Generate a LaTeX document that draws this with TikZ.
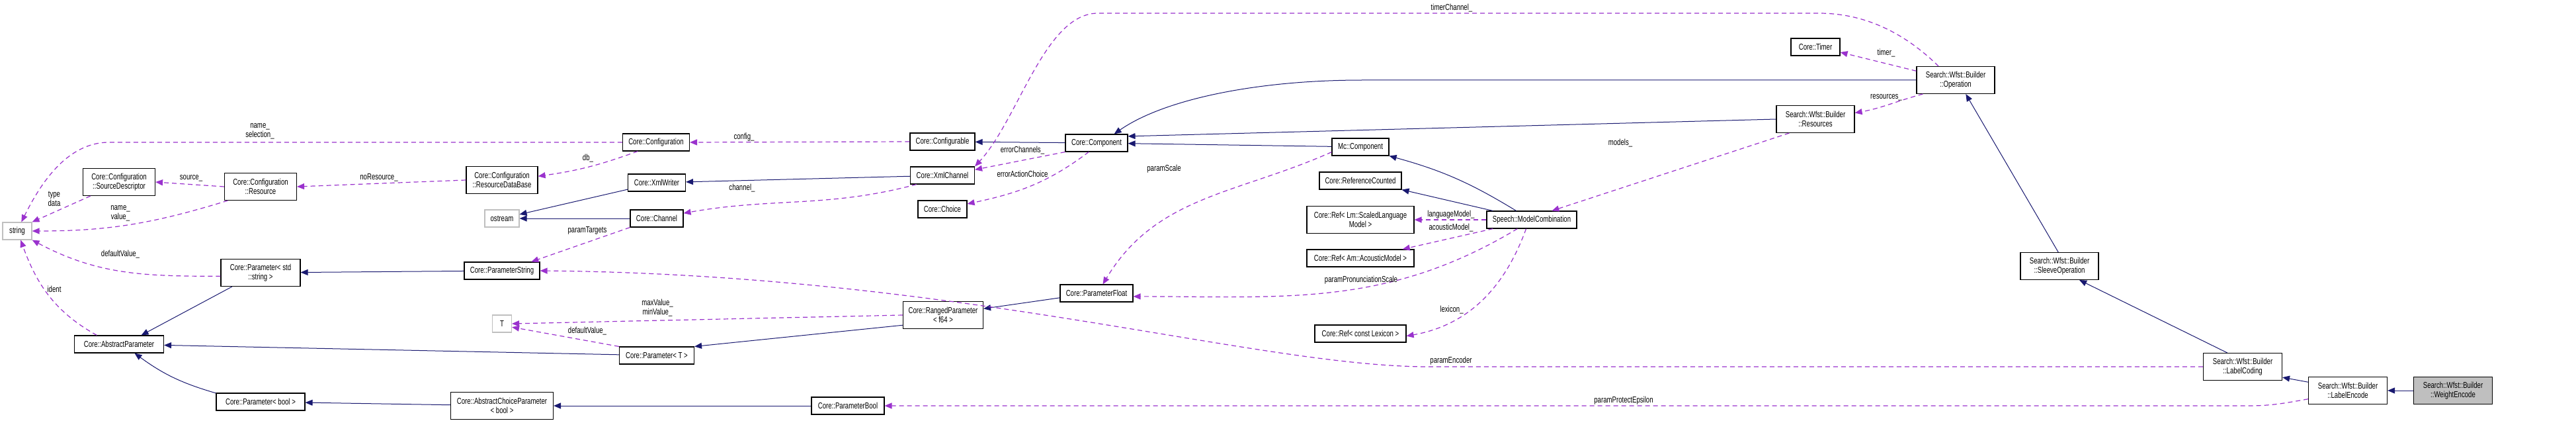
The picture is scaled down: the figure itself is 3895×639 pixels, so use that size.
\documentclass[tikz,border=0pt]{standalone}
\usepackage{fontspec}
\setmainfont{Liberation Sans}[FakeStretch=0.74]
\usepackage{tikz}
\usetikzlibrary{arrows.meta,positioning}
\definecolor{inhcol}{HTML}{191970}
\definecolor{usecol}{HTML}{9A32CD}
\definecolor{boxgray}{HTML}{BFBFBF}

\begin{document}
\begin{tikzpicture}[
  x=1pt, y=1pt,
  font=\fontsize{13}{14}\selectfont,
  cls/.style={draw, fill=white, line width=1.1pt, inner sep=0pt, align=center, minimum height=26pt},
  cls2/.style={cls, minimum height=41pt},
  ext/.style={cls, draw=boxgray},
  inh/.style={-{Triangle[length=11pt,width=9pt]}, draw=inhcol, line width=1pt},
  use/.style={-{Triangle[length=11pt,width=9pt]}, draw=usecol, line width=1.2pt, dash pattern=on 7pt off 5pt},
  lab/.style={inner sep=0pt, align=center}
]
\useasboundingbox (0,0) rectangle (3895,-639);

\node[ext, minimum width=44pt] (str) at (26,-349) {string};
\node[cls2, minimum width=109pt] (srcdesc) at (180,-275) {Core::Configuration\\::SourceDescriptor};
\node[cls2, minimum width=109pt] (resource) at (394,-282) {Core::Configuration\\::Resource};
\node[cls2, minimum width=108pt] (resdb) at (759,-272) {Core::Configuration\\::ResourceDataBase};
\node[cls, minimum width=101pt] (config) at (992,-215) {Core::Configuration};
\node[cls, minimum width=87pt] (xmlwriter) at (993,-276) {Core::XmlWriter};
\node[ext, minimum width=52pt] (ostream) at (759,-330) {ostream};
\node[cls, minimum width=80pt] (channel) at (993,-330) {Core::Channel};
\node[cls, minimum width=114pt] (pstring) at (759,-409) {Core::ParameterString};
\node[ext, minimum width=29pt] (tparam) at (759,-489) {T};
\node[cls, minimum width=113pt] (paramt) at (993,-537) {Core::Parameter< T >};
\node[cls2, minimum width=155pt] (choicepar) at (759,-613) {Core::AbstractChoiceParameter\\< bool >};
\node[cls, minimum width=110pt] (pbool) at (1282,-613) {Core::ParameterBool};
\node[cls2, minimum width=120pt] (paramstd) at (394,-412) {Core::Parameter< std\\::string >};
\node[cls, minimum width=135pt] (absparam) at (180,-520) {Core::AbstractParameter};
\node[cls, minimum width=134pt] (parambool) at (394,-607) {Core::Parameter< bool >};
\node[cls, minimum width=98pt] (configurable) at (1425,-214) {Core::Configurable};
\node[cls, minimum width=97pt] (xmlchannel) at (1425,-265) {Core::XmlChannel};
\node[cls, minimum width=74pt] (choice) at (1425,-316) {Core::Choice};
\node[cls, minimum width=94pt] (component) at (1658,-216) {Core::Component};
\node[cls2, minimum width=121pt] (ranged) at (1426,-476) {Core::RangedParameter\\< f64 >};
\node[cls, minimum width=110pt] (pfloat) at (1658,-443) {Core::ParameterFloat};
\node[cls, minimum width=86pt] (mccomp) at (2057,-222) {Mc::Component};
\node[cls, minimum width=124pt] (refcount) at (2057,-273) {Core::ReferenceCounted};
\node[cls2, minimum width=162pt] (reflm) at (2057,-332) {Core::Ref< Lm::ScaledLanguage\\Model >};
\node[cls, minimum width=162pt] (refam) at (2057,-390) {Core::Ref< Am::AcousticModel >};
\node[cls, minimum width=138pt] (reflex) at (2057,-504) {Core::Ref< const Lexicon >};
\node[cls, minimum width=136pt] (modelcomb) at (2316,-332) {Speech::ModelCombination};
\node[cls, minimum width=74pt] (timer) at (2745,-71) {Core::Timer};
\node[cls2, minimum width=118pt] (operation) at (2957,-121) {Search::Wfst::Builder\\::Operation};
\node[cls2, minimum width=118pt] (resources) at (2745,-180) {Search::Wfst::Builder\\::Resources};
\node[cls2, minimum width=118pt] (sleeve) at (3114,-402) {Search::Wfst::Builder\\::SleeveOperation};
\node[cls2, minimum width=119pt] (labelcoding) at (3391,-554) {Search::Wfst::Builder\\::LabelCoding};
\node[cls2, minimum width=119pt] (labelencode) at (3550,-590) {Search::Wfst::Builder\\::LabelEncode};
\node[cls2, minimum width=119pt, fill=boxgray] (weightencode) at (3709,-590) {Search::Wfst::Builder\\::WeightEncode};

\foreach \a/\b in {component/configurable, xmlchannel/xmlwriter, xmlwriter/ostream, channel/ostream,
    mccomp/component, pstring/paramstd, paramt/absparam, choicepar/parambool, pbool/choicepar,
    weightencode/labelencode}
  \draw[inh] (\a) -- (\b);
\draw[inh] (resources.west) -- (component.12);
\draw[inh] (operation.west) -- (2060,-121) .. controls (1900,-121) and (1760,-150) .. (component.27);
\draw[inh] (modelcomb.150) to[bend right=8] (mccomp.south east);
\draw[inh] (modelcomb.167) -- (refcount.south east);
\draw[inh] (paramstd.206) -- (absparam.22);
\draw[inh] (parambool.169) to[bend left=10] (absparam.-30);
\draw[inh] (ranged.194) -- (paramt.north east);
\draw[inh] (pfloat.187) -- (ranged.9);
\draw[inh] (sleeve.95) -- (operation.-54);
\draw[inh] (labelcoding.138) -- (sleeve.-35);
\draw[inh] (labelencode.168) -- (labelcoding.-15);

\foreach \a/\b in {resource.west/srcdesc.east, resdb.west/resource.east, configurable.west/config.east,
    srcdesc.206/str.north east, channel.south west/pstring.17, component.south west/xmlchannel.10,
    operation.167/timer.-12, resources.208/modelcomb.24, modelcomb.west/reflm.east,
    modelcomb.193/refam.12, ranged.west/tparam.east, paramt.north west/tparam.-19}
  \draw[use] (\a) -- (\b);
\draw[use] (config.west) -- (165,-215) .. controls (100,-215) and (60,-280) .. (str.65);
\draw[use] (resource.203) to[out=197,in=0] (str.east);
\draw[use] (config.206) to[out=200,in=8] (resdb.6);
\draw[use] (xmlchannel.199) to[out=195,in=10] (channel.11);
\draw[use] (labelcoding.west) -- (2160,-554) .. controls (1900,-554) and (1450,-415) .. (pstring.east);
\draw[use] (modelcomb.212) to[out=211,in=0] (pfloat.-5);
\draw[use] (mccomp.190) to[out=204,in=59] (pfloat.55);
\draw[use] (component.229) to[out=217,in=12] (choice.12);
\draw[use] (operation.141) .. controls (2880,-50) and (2820,-20) .. (2750,-20) -- (1660,-20)
  .. controls (1580,-20) and (1540,-180) .. (xmlchannel.north east);
\draw[use] (operation.203) to[out=195,in=10] (resources.9);
\draw[use] (modelcomb.238) to[out=250,in=10] (reflex.-3);
\draw[use] (paramstd.185) to[out=180,in=-28] (str.south east);
\draw[use] (absparam.158) to[out=151,in=-70] (str.-69);
\draw[use] (labelencode.192) to[out=190,in=0] (3400,-613) -- (pbool.east);

\node[lab] (lnamesel) at (393,-198) {name\_\\selection\_};
\node[lab] (ltypedata) at (82,-300) {type\\data};
\node[lab] (lnameval) at (182,-322) {name\_\\value\_};
\node[lab] (lsource) at (289,-269) {source\_};
\node[lab] (lnores) at (573,-268) {noResource\_};
\node[lab] (ldb) at (889,-239) {db\_};
\node[lab] (lconfig) at (1125,-207) {config\_};
\node[lab] (lchannel) at (1122,-284) {channel\_};
\node[lab] (ltargets) at (888,-348) {paramTargets};
\node[lab] (lencoder) at (2194,-545) {paramEncoder};
\node[lab] (lpron) at (2058,-423) {paramPronunciationScale};
\node[lab] (lscale) at (1760,-255) {paramScale};
\node[lab] (lerrch) at (1546,-227) {errorChannels\_};
\node[lab] (lerrac) at (1546,-263) {errorActionChoice};
\node[lab] (ltimerch) at (2195,-12) {timerChannel\_};
\node[lab] (ltimer) at (2852,-80) {timer\_};
\node[lab] (lres) at (2852,-147) {resources\_};
\node[lab] (lmodels) at (2450,-216) {models\_};
\node[lab] (llm) at (2194,-324) {languageModel\_};
\node[lab] (lam) at (2194,-344) {acousticModel\_};
\node[lab] (llex) at (2195,-468) {lexicon\_};
\node[lab] (lmaxmin) at (994,-465) {maxValue\_\\minValue\_};
\node[lab] (ldeft) at (888,-500) {defaultValue\_};
\node[lab] (ldefstr) at (182,-384) {defaultValue\_};
\node[lab] (lident) at (82,-437) {ident};
\node[lab] (leps) at (2455,-605) {paramProtectEpsilon};
\end{tikzpicture}
\end{document}
